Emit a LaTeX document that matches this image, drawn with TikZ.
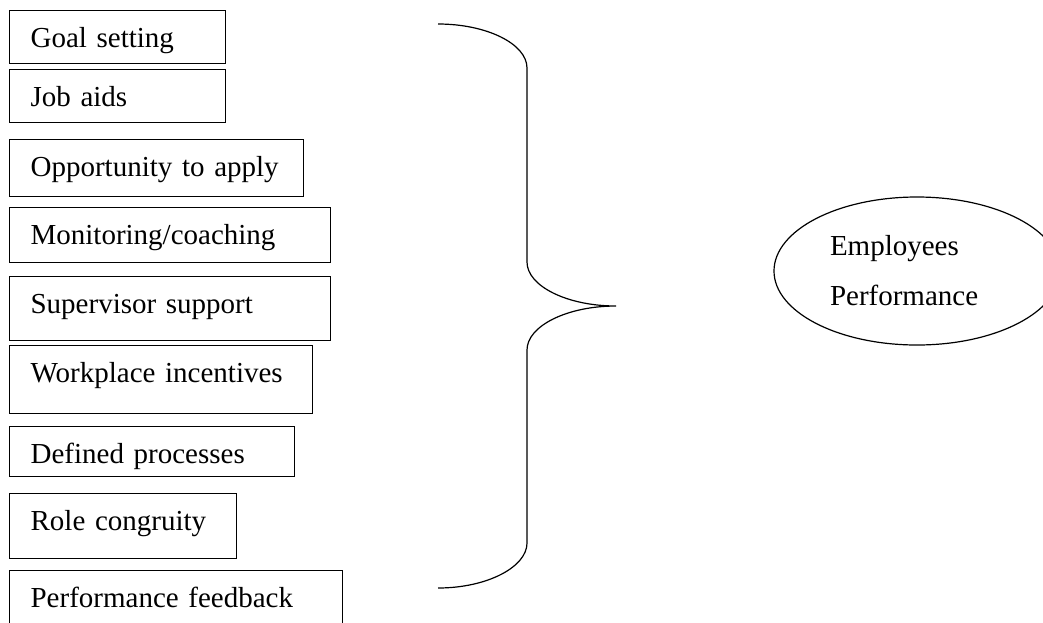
\documentclass[tikz,border=0pt]{standalone}
\usepackage{fontspec}
\setmainfont{Liberation Serif}
\usetikzlibrary{shapes.geometric}

\tikzset{
  factor/.style 2 args={draw, line width=1.2pt, anchor=north west, inner xsep=21pt, inner ysep=0pt,
    align=left, text width=#1, text height=37pt, text depth=#2},
  outcome/.style={draw, ellipse, line width=1.2pt, minimum width=286pt, minimum height=148pt,
    align=left, text width=174pt},
}

\begin{document}
\begin{tikzpicture}[x=1pt, y=-1pt, font=\fontsize{29}{50}\selectfont]
    \useasboundingbox (0,0) rectangle (1043,622);

    \node[factor={174pt}{16pt}] (goal) at (9,10) {Goal setting};
    \node[factor={174pt}{16pt}] (jobaids) at (9,69) {Job aids};
    \node[factor={252pt}{20pt}] (opportunity) at (9,139) {Opportunity to apply};
    \node[factor={279pt}{18pt}] (monitoring) at (9,207) {Monitoring/coaching};
    \node[factor={279pt}{27pt}] (supervisor) at (9,276) {Supervisor support};
    \node[factor={261pt}{31pt}] (incentives) at (9,345) {Workplace incentives};
    \node[factor={243pt}{13pt}] (processes) at (9,426) {Defined processes};
    \node[factor={185pt}{28pt}] (congruity) at (9,493) {Role congruity};
    \node[factor={291pt}{23pt}] (feedback) at (9,570) {Performance feedback};

    % brace
    \draw[line width=1.2pt] (438,24) .. controls (487,24) and (527,44) .. (527,68) -- (527,262)
        .. controls (527,286) and (567,306) .. (616,306)
        .. controls (567,306) and (527,326) .. (527,350) -- (527,543)
        .. controls (527,567) and (487,588) .. (438,588);

    \node[outcome] (performance) at (917,271) {Employees\\Performance};
\end{tikzpicture}
\end{document}
